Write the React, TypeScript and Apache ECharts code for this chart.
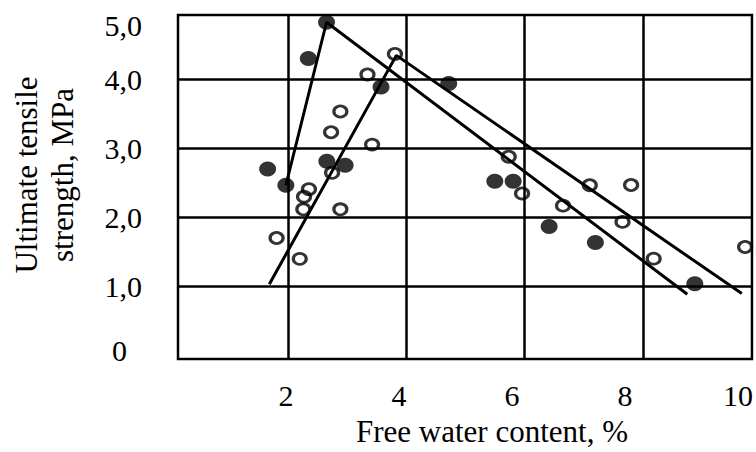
import React, { useEffect, useRef } from "react";
import * as echarts from "echarts";

// Filled markers (series 1)
const filledPoints: [number, number][] = [
  [1.655, 2.704], [1.963, 2.468], [2.342, 4.303], [2.65, 4.83], [2.655, 2.816],
  [2.965, 2.759], [3.571, 3.891], [4.715, 3.944], [5.494, 2.526], [5.804, 2.526],
  [6.412, 1.871], [7.194, 1.638], [8.874, 1.042],
];
// Open markers (series 2)
const openPoints: [number, number][] = [
  [1.806, 1.703], [2.198, 1.401], [2.258, 2.119], [2.27, 2.302], [2.353, 2.411],
  [2.744, 2.648], [2.727, 3.236], [2.884, 3.537], [2.884, 2.119], [3.342, 4.073],
  [3.42, 3.057], [3.806, 4.371], [5.729, 2.881], [5.955, 2.349], [6.647, 2.172],
  [7.099, 2.468], [7.652, 1.937], [7.797, 2.471], [8.179, 1.404], [9.724, 1.573],
];
// Trend lines
const filledLine: [number, number][] = [[1.963, 2.468], [2.65, 4.83], [8.747, 0.888]];
const openLine: [number, number][] = [[1.683, 1.032], [3.83, 4.35], [9.668, 0.898]];

const xGridValues = [2, 4, 6, 8];
const xTickLabels = [2, 4, 6, 8, 10];
const yGridValues = [1, 2, 3, 4];
const yTickLabels = [0, 1, 2, 3, 4, 5];

const X_MIN = 0.14, X_MAX = 9.84;
const XL_MIN = 0.088, XL_MAX = 10.245;
const Y_MIN = -0.05, Y_MAX = 4.935;

const FONT = "Liberation Serif";
const FS = 30;
const NFS = 31;

export default function App() {
  const ref = useRef<HTMLDivElement>(null);
  useEffect(() => {
    if (!ref.current) return;
    const chart = echarts.init(ref.current, null, { renderer: "svg" });
    const yLabelValues = yTickLabels.map((v) => (v === 5 ? Y_MAX : v));
    chart.setOption({
      animation: false,
      backgroundColor: "#fff",
      grid: {
        left: 173, right: 4, top: 15, bottom: 90,
        show: true, borderColor: "#000", borderWidth: 2.5, containLabel: false,
      },
      xAxis: [
        {
          type: "value", min: X_MIN, max: X_MAX,
          axisLine: { show: false },
          axisTick: { show: false, customValues: xGridValues },
          axisLabel: { show: false },
          splitLine: { show: true, lineStyle: { color: "#000", width: 2.5 } },
        },
        {
          type: "value", min: XL_MIN, max: XL_MAX, position: "bottom",
          axisLine: { show: false },
          axisTick: { show: false },
          splitLine: { show: false },
          axisLabel: {
            customValues: xTickLabels, margin: 21,
            fontFamily: FONT, fontSize: FS, color: "#000",
            formatter: (v: number) => String(v),
          },
          name: "Free water content, %",
          nameLocation: "middle", nameGap: 57,
          nameTextStyle: { fontFamily: FONT, fontSize: NFS, color: "#000", padding: [0, 0, 0, 54] },
        },
      ],
      yAxis: {
        type: "value", min: Y_MIN, max: Y_MAX,
        axisLine: { show: false },
        axisTick: { show: false, customValues: yGridValues },
        splitLine: { show: true, lineStyle: { color: "#000", width: 2.5 } },
        axisLabel: {
          customValues: yLabelValues, margin: 36,
          fontFamily: FONT, fontSize: FS, color: "#000",
          formatter: (v: number) => {
            if (v >= 4.9) return "{t|5,0}";
            if (v === 0) return "{z|0}";
            return v.toFixed(1).replace(".", ",");
          },
          rich: {
            t: { fontFamily: FONT, fontSize: FS, color: "#000", padding: [20, 0, 0, 0] },
            z: { fontFamily: FONT, fontSize: FS, color: "#000", padding: [0, 15, 10, 0] },
          },
        },
        name: "Ultimate tensile\nstrength, MPa",
        nameLocation: "middle", nameGap: 98,
        nameTextStyle: { fontFamily: FONT, fontSize: NFS, color: "#000", lineHeight: 36, padding: [0, 0, 0, 24] },
      },
      series: [
        {
          type: "line", data: filledLine, xAxisIndex: 0, symbol: "none",
          lineStyle: { color: "#000", width: 3 }, z: 3,
        },
        {
          type: "line", data: openLine, xAxisIndex: 0, symbol: "none",
          lineStyle: { color: "#000", width: 3 }, z: 3,
        },
        {
          type: "scatter", data: filledPoints, xAxisIndex: 0, symbol: "circle",
          symbolSize: [17, 15], itemStyle: { color: "#000" }, z: 4,
        },
        {
          type: "scatter", data: openPoints, xAxisIndex: 0, symbol: "circle",
          symbolSize: [13, 11],
          itemStyle: { color: "rgba(0,0,0,0)", borderColor: "#000", borderWidth: 3 }, z: 4,
        },
      ],
    });
    return () => chart.dispose();
  }, []);
  return (
    <div
      ref={ref}
      style={{ position: "absolute", left: 0, top: 0, width: 756, height: 452 }}
    />
  );
}
